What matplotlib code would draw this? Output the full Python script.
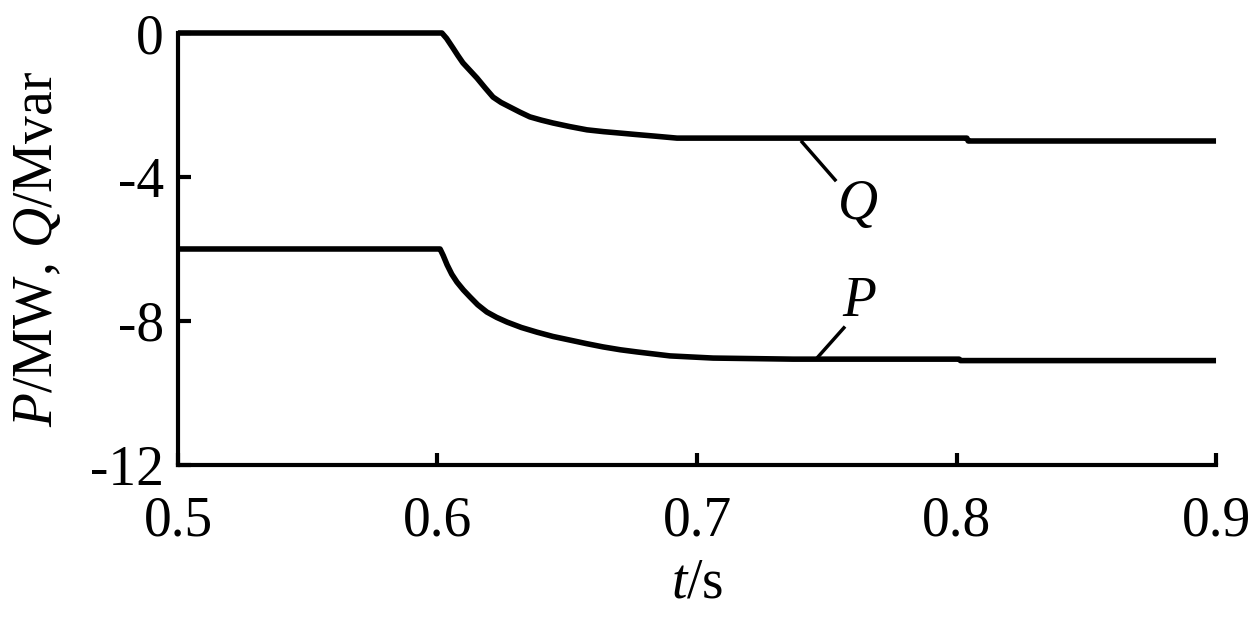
import matplotlib
matplotlib.use("Agg")
import matplotlib.pyplot as plt

plt.rcParams.update({
    "font.family": "Liberation Serif",
    "font.size": 40,
    "mathtext.fontset": "custom",
    "mathtext.rm": "Liberation Serif",
    "mathtext.it": "Liberation Serif:italic",
    "axes.unicode_minus": False,
})

# reactive power Q (Mvar)
t_q = [0.5, 0.6, 0.6017, 0.6035, 0.606, 0.6078, 0.6098, 0.6125, 0.6152, 0.6183,
       0.6214, 0.6245, 0.628, 0.6318, 0.6356, 0.64, 0.6445, 0.651, 0.6576, 0.664,
       0.6703, 0.6765, 0.683, 0.6923, 0.709, 0.804, 0.8045, 0.9]
q = [0, 0, 0, -0.15, -0.42, -0.62, -0.83, -1.04, -1.25, -1.52,
     -1.78, -1.93, -2.06, -2.2, -2.33, -2.42, -2.5, -2.6, -2.69, -2.74,
     -2.78, -2.82, -2.86, -2.92, -2.92, -2.92, -3.0, -3.0]

# active power P (MW)
t_p = [0.5, 0.6, 0.601, 0.6022, 0.6037, 0.6055, 0.6075, 0.61, 0.6125, 0.6155,
       0.619, 0.6228, 0.6268, 0.6323, 0.6383, 0.6445, 0.651, 0.6575, 0.6638,
       0.6705, 0.6769, 0.6896, 0.7062, 0.737, 0.801, 0.8015, 0.9]
p = [-6, -6, -6, -6.18, -6.44, -6.7, -6.92, -7.14, -7.33, -7.55,
     -7.75, -7.9, -8.03, -8.18, -8.31, -8.43, -8.53, -8.63, -8.72,
     -8.8, -8.86, -8.97, -9.03, -9.06, -9.06, -9.1, -9.1]

fig = plt.figure(figsize=(12.49, 6.18), dpi=100)
ax = fig.add_axes([0.1425, 0.2476, 0.8311, 0.699])

ax.plot(t_q, q, color='black', lw=4, clip_on=False, solid_capstyle='butt')
ax.plot(t_p, p, color='black', lw=4, clip_on=False, solid_capstyle='butt')

# curve labels with leader lines
ax.plot([0.7405, 0.7532], [-3.03, -4.08], color='black', lw=2.5)
ax.text(0.7617, -4.78, '$Q$', ha='center', va='center')
ax.plot([0.7466, 0.7566], [-9.0, -8.19], color='black', lw=2.5)
ax.text(0.7624, -7.47, '$P$', ha='center', va='center')

ax.set_xlim(0.5, 0.9)
ax.set_ylim(-12, 0)
ax.set_xticks([0.5, 0.6, 0.7, 0.8, 0.9])
ax.set_xticklabels(['0.5', '0.6', '0.7', '0.8', '0.9'])
ax.set_yticks([0, -4, -8, -12])
ax.set_yticklabels(['0', '-4', '-8', '-12'])

for s in ['top', 'right']:
    ax.spines[s].set_visible(False)
for s in ['left', 'bottom']:
    ax.spines[s].set_linewidth(3)

ax.tick_params(direction='in', length=9, width=3)
ax.tick_params(axis='x', pad=22)
ax.tick_params(axis='y', pad=10)

ax.set_xlabel('$t$/s', labelpad=7)
ax.set_ylabel('$P$/MW, $Q$/Mvar', labelpad=19)

plt.savefig('out.png', dpi=100)
